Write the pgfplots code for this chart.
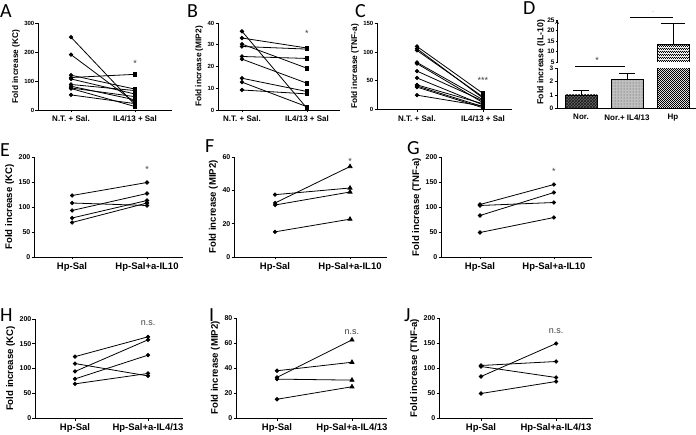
\documentclass[border=0pt]{standalone}
\usepackage{fontspec}
\setmainfont{Liberation Sans}
\newfontfamily\letterfont{Carlito}
\usepackage{pgfplots}
\pgfplotsset{compat=1.18}
\usetikzlibrary{patterns}
\pgfdeclarepatternformonly{finecheck}{\pgfpointorigin}{\pgfpoint{2.4pt}{2.4pt}}{\pgfpoint{2.4pt}{2.4pt}}{%
  \pgfpathrectangle{\pgfpointorigin}{\pgfpoint{1.2pt}{1.2pt}}%
  \pgfpathrectangle{\pgfpoint{1.2pt}{1.2pt}}{\pgfpoint{1.2pt}{1.2pt}}%
  \pgfusepath{fill}}
\newcommand\fs[1]{\fontsize{#1}{#1}\selectfont}
\pgfplotsset{
  gp/.style={scale only axis, anchor=south west, axis lines=left,
    axis line style={-, line width=0.8pt, black}, tick align=outside, major tick length=2.5pt,
    tick style={black, line width=0.8pt}, xtick={0,1}, clip=false,
    /pgf/number format/assume math mode=true,
    yticklabel style={font=\bfseries\fs{6}, inner sep=1pt, text=black},
    xticklabel style={font=\bfseries\fs{8}, text=black},
    ylabel style={font=\bfseries\fs{8.3}},
    ymin=0},
  big/.style={yticklabel style={font=\bfseries\fs{7}}, xticklabel style={font=\bfseries\fs{9.5}}, ylabel style={font=\bfseries\fs{9.6}}},
  pair/.style={black, line width=0.8pt, scatter, point meta=explicit symbolic,
    scatter/classes={c={mark=*, mark size=1.7pt, black}, s={mark=square*, mark size=1.8pt, black}, t={mark=triangle*, mark size=2.3pt, black}}},
  ln/.style={black, line width=0.9pt, mark=none},
  dlo/.style={gp, at={(557pt,325.7pt)}, width=139pt, height=40pt, xmin=-0.522, xmax=2.5, ymin=0, ymax=3,
    yticklabel style={font=\bfseries\fs{6.5}}},
  dup/.style={gp, at={(557pt,372pt)}, width=139pt, height=42pt, xmin=-0.522, xmax=2.5, ymin=5, ymax=25,
    yticklabel style={font=\bfseries\fs{6.5}}},
}
\tikzset{sig/.style={font=\fs{9}, text=black!75}}
\newcommand\pairs[3]{\foreach \a/\b in {#3}{\edef\tmp{\noexpand\addplot[pair] coordinates {(0,\a) [#1] (1,\b) [#2]};}\tmp}}
\begin{document}
\begin{tikzpicture}[x=1pt,y=1pt]
\useasboundingbox (0,0) rectangle (696,434);
% ---------- A
\begin{axis}[gp, at={(38pt,324pt)}, width=134pt, height=87pt, xmin=-0.516, xmax=1.578, ymax=300, ytick={0,100,200,300},
  xticklabels={N.T. + Sal., IL4/13 + Sal}, ylabel={Fold increase (KC)}]
\pairs{c}{s}{251/18, 191/26, 120/72, 112/123, 107/55, 88/67, 82/35, 76/46, 74/12, 52/22}
\node[sig] at (axis cs:1,161) {*};
\end{axis}
% ---------- B
\begin{axis}[gp, at={(218pt,324pt)}, width=122pt, height=87pt, xmin=-0.369, xmax=1.508, ymax=40, ytick={0,10,20,30,40},
  xticklabels={N.T. + Sal., IL4/13 + Sal}, ylabel={Fold increase (MIP2)}]
\pairs{c}{s}{36.2/0.8, 33.1/28.5, 30.3/19.2, 29.2/28, 24.6/23.7, 23.4/12.3, 14.6/8.5, 12.8/1.5, 9.2/7.4}
\node[sig] at (axis cs:1,35.4) {*};
\end{axis}
% ---------- C
\begin{axis}[gp, at={(377pt,324.5pt)}, width=135pt, height=86pt, xmin=-0.606, xmax=1.44, ymax=150, ytick={0,50,100,150},
  xticklabels={N.T. + Sal., IL4/13 + Sal}, ylabel={Fold increase (TNF-a)}]
\pairs{c}{s}{110/28, 106/20, 103/22, 82/17, 80/12, 67/15, 55/8, 43/10, 41/5, 39/3, 25/6}
\node[sig] at (axis cs:1,50) {***};
\end{axis}
% ---------- D bars (lower part 0-3), axis hidden
\begin{axis}[dlo, hide axis]
\addplot[draw=black, line width=0.9pt, fill=black!60, postaction={pattern=crosshatch, pattern color=black!90}, mark=none]
  coordinates {(-0.348,0) (-0.348,1.0) (0.348,1.0) (0.348,0)} -- cycle;
\addplot[draw=black, line width=0.9pt, fill=black!25, postaction={pattern=dots, pattern color=black!70}, mark=none]
  coordinates {(0.652,0) (0.652,2.15) (1.348,2.15) (1.348,0)} -- cycle;
\addplot[draw=none, fill=white, postaction={pattern=finecheck, pattern color=black}, mark=none]
  coordinates {(1.652,0) (1.652,3) (2.348,3) (2.348,0)} -- cycle;
\end{axis}
% ---------- D bars (upper part 5-25), axis hidden
\begin{axis}[dup, hide axis]
\addplot[draw=none, fill=white, postaction={pattern=finecheck, pattern color=black}, mark=none]
  coordinates {(1.652,5) (1.652,13.4) (2.348,13.4) (2.348,5)} -- cycle;
\end{axis}
% ---------- D lower axis
\begin{axis}[dlo, ytick={0,1,2,3}, xtick={0,1,2}, xticklabels={Nor., Nor.+ IL4/13, Hp}, xtick style={draw=none},
  ylabel={Fold increase (IL-10)}, ylabel style={font=\bfseries\fs{8.7}, at={(ticklabel cs:1.15)}, anchor=south}]
\addplot[ln] coordinates {(0,1.0) (0,1.32)};
\addplot[ln] coordinates {(-0.174,1.32) (0.174,1.32)};
\addplot[ln] coordinates {(1,2.15) (1,2.65)};
\addplot[ln] coordinates {(0.826,2.65) (1.174,2.65)};
\addplot[ln] coordinates {(1.652,3) (1.652,0) (2.348,0) (2.348,3)};
\draw[line width=0.9pt] (axis cs:-0.13,3.17) -- (axis cs:0.957,3.17);
\node[sig] at (axis cs:0.35,3.6) {*};
\end{axis}
% ---------- D upper axis
\begin{axis}[dup, ytick={5,10,15,20,25}, axis x line=none, axis y line=left]
\addplot[ln] coordinates {(1.652,5) (1.652,13.4) (2.348,13.4) (2.348,5)};
\addplot[ln] coordinates {(2,13.4) (2,23.4)};
\addplot[ln] coordinates {(1.74,23.4) (2.26,23.4)};
\draw[line width=0.9pt] (axis cs:1.065,26) -- (axis cs:2.0,26);
\node[font=\fs{6}, text=black!40] at (axis cs:1.57,28.3) {-};
\end{axis}
% ---------- E
\begin{axis}[gp, big, at={(34pt,177pt)}, width=149pt, height=100pt, xmin=-0.507, xmax=1.48, ymax=200, ytick={0,50,100,150,200},
  xticklabels={Hp-Sal, Hp-Sal+a-IL10}, ylabel={Fold increase (KC)}]
\pairs{c}{c}{123/149, 108/103, 93/127, 78/113, 69/108}
\node[sig] at (axis cs:1,175) {*};
\end{axis}
% ---------- F
\begin{axis}[gp, big, at={(234pt,177pt)}, width=153pt, height=100pt, xmin=-0.547, xmax=1.493, ymax=60, ytick={0,20,40,60},
  xticklabels={Hp-Sal, Hp-Sal+a-IL10}, ylabel={Fold increase (MIP2)}]
\pairs{c}{t}{37.4/41.4, 32.4/54.3, 31.2/39, 15.1/22.7}
\node[sig] at (axis cs:1,57.5) {*};
\end{axis}
% ---------- G
\begin{axis}[gp, big, at={(441pt,177pt)}, width=151pt, height=100pt, xmin=-0.527, xmax=1.514, ymax=200, ytick={0,50,100,150,200},
  xticklabels={Hp-Sal, Hp-Sal+a-IL10}, ylabel={Fold increase (TNF-a)}]
\pairs{c}{c}{105/145, 103/109, 83/129, 49/79}
\node[sig] at (axis cs:1,172) {*};
\end{axis}
% ---------- H
\begin{axis}[gp, big, at={(35pt,16pt)}, width=148pt, height=99pt, xmin=-0.548, xmax=1.479, ymax=200, ytick={0,50,100,150,200},
  xticklabels={Hp-Sal, Hp-Sal+a-IL4/13}, ylabel={Fold increase (KC)}]
\pairs{c}{c}{124/164, 110/85, 94/158, 79/127, 69/90}
\node[sig] at (axis cs:1,192) {n.s.};
\end{axis}
% ---------- I
\begin{axis}[gp, big, at={(236pt,16pt)}, width=151pt, height=100pt, xmin=-0.547, xmax=1.467, ymax=80, ytick={0,20,40,60,80},
  xticklabels={Hp-Sal, Hp-Sal+a-IL4/13}, ylabel={Fold increase (MIP2)}]
\pairs{c}{t}{37.8/44.6, 32.5/62.5, 31.1/30.3, 15/25}
\node[sig] at (axis cs:1,69) {n.s.};
\end{axis}
% ---------- J
\begin{axis}[gp, big, at={(439pt,16pt)}, width=154pt, height=100pt, xmin=-0.56, xmax=1.493, ymax=200, ytick={0,50,100,150,200},
  xticklabels={Hp-Sal, Hp-Sal+a-IL4/13}, ylabel={Fold increase (TNF-a)}]
\pairs{c}{c}{105/113, 103/81, 83/149, 49/73}
\node[sig] at (axis cs:1,174) {n.s.};
\end{axis}
% ---------- panel letters
\begin{scope}[every node/.style={anchor=base west, inner sep=0pt, font=\letterfont\fs{20}}]
\node at (0,416) {A};
\node at (187,416) {B};
\node at (355,416) {C};
\node at (523,419) {D};
\node at (0,277) {E};
\node at (205,281) {F};
\node at (407,279) {G};
\node at (0,112) {H};
\node at (209,112) {I};
\node at (404,112) {J};
\end{scope}
\end{tikzpicture}
\end{document}
